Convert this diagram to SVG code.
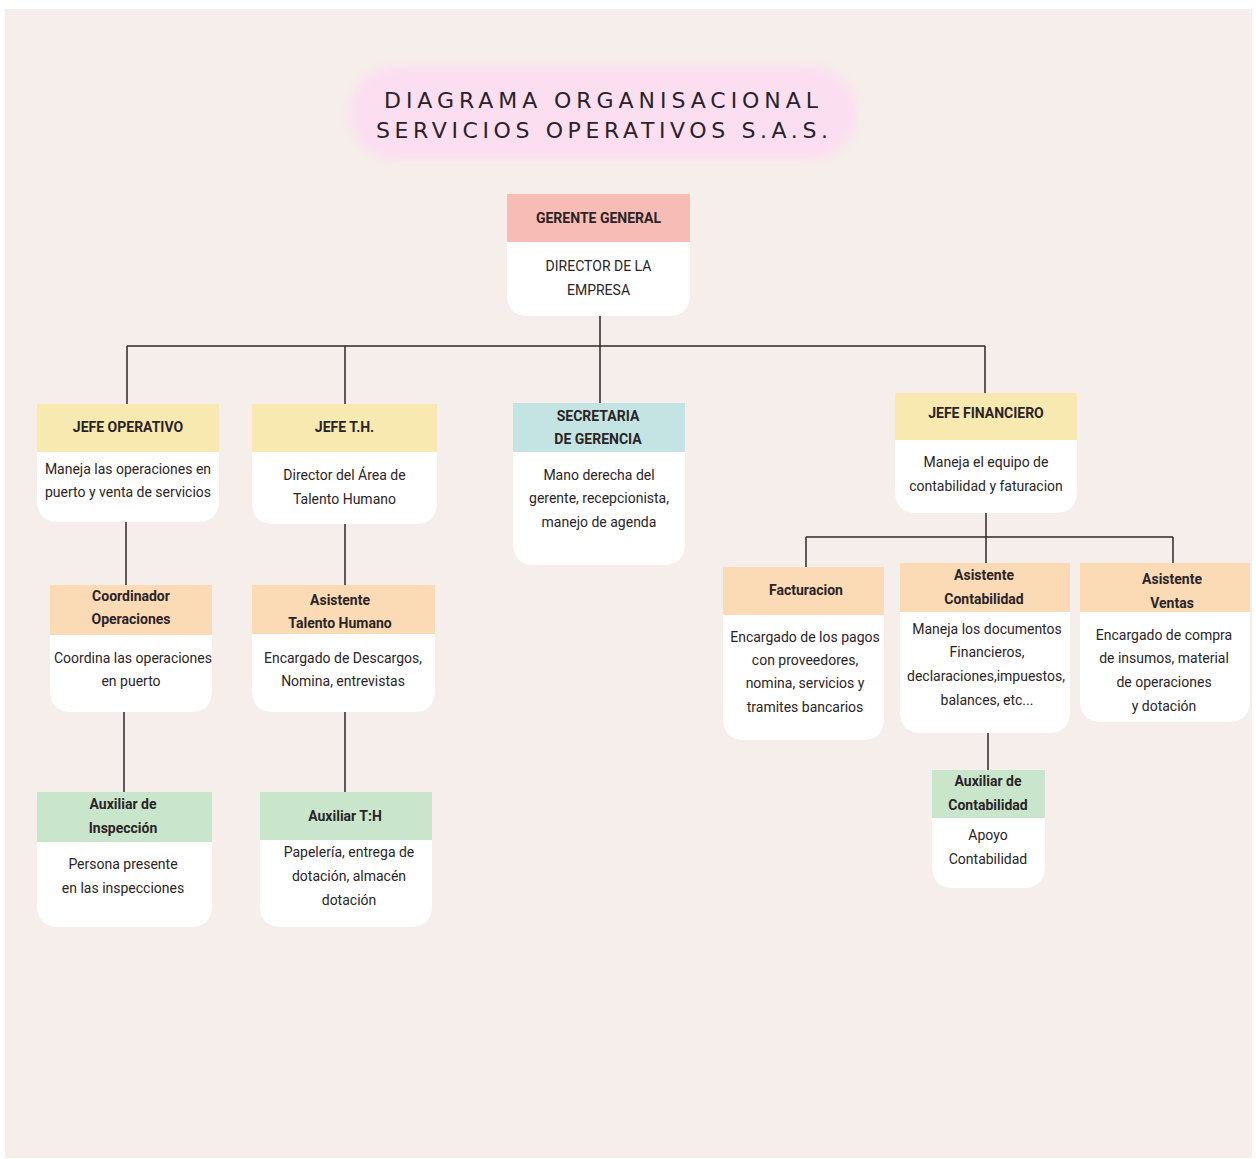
<svg xmlns="http://www.w3.org/2000/svg" width="1256" height="1159" viewBox="0 0 1256 1159">
<defs>
<filter id="soft" x="-10%" y="-20%" width="120%" height="140%"><feGaussianBlur stdDeviation="4"/></filter>
<style>
.t{font-family:Roboto,"Liberation Sans",sans-serif;font-size:14px;fill:#2b2427;text-anchor:middle}
.h{font-weight:700}
.title{font-family:"DejaVu Sans",sans-serif;font-size:22px;fill:#2a2228;text-anchor:middle}
.body{fill:#ffffff}
.pink{fill:#f7bcb5}
.yel{fill:#f8e9b0}
.teal{fill:#c4e4e3}
.peach{fill:#fbdab6}
.green{fill:#c9e6cd}
.c{stroke:#2e2a2a;stroke-width:1.5;fill:none}
</style>
</defs>
<rect width="1256" height="1159" fill="#ffffff"/>
<rect x="5" y="9" width="1247" height="1149" fill="#f6eeeb"/>

<g id="title">
<rect x="349" y="66" width="508" height="94" rx="47" fill="#fbdff0" filter="url(#soft)"/>
<text class="title" x="601" y="108" textLength="434" lengthAdjust="spacing">DIAGRAMA ORGANISACIONAL</text>
<text class="title" x="602" y="138" textLength="452" lengthAdjust="spacing">SERVICIOS OPERATIVOS S.A.S.</text>
</g>

<g id="connectors">
<path class="c" d="M600 316 V346 M127 346 H985 M127 346 V404 M345 346 V404 M600 346 V403 M985 346 V393"/>
<path class="c" d="M126 522 V585 M124 712 V792 M345 524 V585 M345 712 V792"/>
<path class="c" d="M986 513 V537 M806 537 H1173 M806 537 V567 M986 537 V563 M1173 537 V563 M988 733 V770"/>
</g>

<g id="gerente">
<path class="body" d="M507 194 H690 V294 Q690 316 668 316 H529 Q507 316 507 294 Z"/>
<rect class="pink" x="507" y="194" width="183" height="48"/>
<text class="t h" x="598.5" y="223">GERENTE GENERAL</text>
<text class="t" x="598.5" y="271">DIRECTOR DE LA</text>
<text class="t" x="598.5" y="295">EMPRESA</text>
</g>

<g id="jefe-operativo">
<path class="body" d="M37 404 H219 V500 Q219 522 197 522 H59 Q37 522 37 500 Z"/>
<rect class="yel" x="37" y="404" width="182" height="48"/>
<text class="t h" x="128" y="432">JEFE OPERATIVO</text>
<text class="t" x="128" y="474">Maneja las operaciones en</text>
<text class="t" x="128" y="497">puerto y venta de servicios</text>
</g>

<g id="jefe-th">
<path class="body" d="M252 404 H437 V502 Q437 524 415 524 H274 Q252 524 252 502 Z"/>
<rect class="yel" x="252" y="404" width="185" height="48"/>
<text class="t h" x="344.5" y="432">JEFE T.H.</text>
<text class="t" x="344.5" y="480">Director del Área de</text>
<text class="t" x="344.5" y="504">Talento Humano</text>
</g>

<g id="secretaria">
<path class="body" d="M513 403 H685 V543 Q685 565 663 565 H535 Q513 565 513 543 Z"/>
<rect class="teal" x="513" y="403" width="172" height="49"/>
<text class="t h" x="598" y="421">SECRETARIA</text>
<text class="t h" x="598" y="444">DE GERENCIA</text>
<text class="t" x="599" y="480">Mano derecha del</text>
<text class="t" x="599" y="503">gerente, recepcionista,</text>
<text class="t" x="599" y="527">manejo de agenda</text>
</g>

<g id="jefe-financiero">
<path class="body" d="M895 393 H1077 V491 Q1077 513 1055 513 H917 Q895 513 895 491 Z"/>
<rect class="yel" x="895" y="393" width="182" height="47"/>
<text class="t h" x="986" y="418">JEFE FINANCIERO</text>
<text class="t" x="986" y="467">Maneja el equipo de</text>
<text class="t" x="986" y="491">contabilidad y faturacion</text>
</g>

<g id="coordinador">
<path class="body" d="M50 585 H212 V690 Q212 712 190 712 H72 Q50 712 50 690 Z"/>
<rect class="peach" x="50" y="585" width="162" height="50"/>
<text class="t h" x="131" y="601">Coordinador</text>
<text class="t h" x="131" y="624">Operaciones</text>
<text class="t" x="133" y="663">Coordina las operaciones</text>
<text class="t" x="131" y="686">en puerto</text>
</g>

<g id="asistente-th">
<path class="body" d="M252 585 H435 V690 Q435 712 413 712 H274 Q252 712 252 690 Z"/>
<rect class="peach" x="252" y="585" width="183" height="49"/>
<text class="t h" x="340" y="605">Asistente</text>
<text class="t h" x="340" y="628">Talento Humano</text>
<text class="t" x="343" y="663">Encargado de Descargos,</text>
<text class="t" x="343" y="686">Nomina, entrevistas</text>
</g>

<g id="auxiliar-inspeccion">
<path class="body" d="M37 792 H212 V905 Q212 927 190 927 H59 Q37 927 37 905 Z"/>
<rect class="green" x="37" y="792" width="175" height="50"/>
<text class="t h" x="123" y="809">Auxiliar de</text>
<text class="t h" x="123" y="833">Inspección</text>
<text class="t" x="123" y="869">Persona presente</text>
<text class="t" x="123" y="893">en las inspecciones</text>
</g>

<g id="auxiliar-th">
<path class="body" d="M260 792 H432 V905 Q432 927 410 927 H282 Q260 927 260 905 Z"/>
<rect class="green" x="260" y="792" width="172" height="48"/>
<text class="t h" x="345" y="821">Auxiliar T:H</text>
<text class="t" x="349" y="857">Papelería, entrega de</text>
<text class="t" x="349" y="881">dotación, almacén</text>
<text class="t" x="349" y="905">dotación</text>
</g>

<g id="facturacion">
<path class="body" d="M723 567 H884 V718 Q884 740 862 740 H745 Q723 740 723 718 Z"/>
<rect class="peach" x="723" y="567" width="161" height="48"/>
<text class="t h" x="806" y="595">Facturacion</text>
<text class="t" x="805" y="642">Encargado de los pagos</text>
<text class="t" x="805" y="665">con proveedores,</text>
<text class="t" x="805" y="688">nomina, servicios y</text>
<text class="t" x="805" y="712">tramites bancarios</text>
</g>

<g id="asistente-contabilidad">
<path class="body" d="M900 563 H1070 V711 Q1070 733 1048 733 H922 Q900 733 900 711 Z"/>
<rect class="peach" x="900" y="563" width="170" height="49"/>
<text class="t h" x="984" y="580">Asistente</text>
<text class="t h" x="984" y="604">Contabilidad</text>
<text class="t" x="987" y="634">Maneja los documentos</text>
<text class="t" x="987" y="657">Financieros,</text>
<text class="t" x="986" y="681">declaraciones,impuestos,</text>
<text class="t" x="987" y="705">balances, etc...</text>
</g>

<g id="asistente-ventas">
<path class="body" d="M1080 563 H1250 V700 Q1250 722 1228 722 H1102 Q1080 722 1080 700 Z"/>
<rect class="peach" x="1080" y="563" width="170" height="49"/>
<text class="t h" x="1172" y="584">Asistente</text>
<text class="t h" x="1172" y="608">Ventas</text>
<text class="t" x="1164" y="640">Encargado de compra</text>
<text class="t" x="1164" y="663">de insumos, material</text>
<text class="t" x="1164" y="687">de operaciones</text>
<text class="t" x="1164" y="711">y dotación</text>
</g>

<g id="auxiliar-contabilidad">
<path class="body" d="M932 770 H1045 V866 Q1045 888 1023 888 H954 Q932 888 932 866 Z"/>
<rect class="green" x="932" y="770" width="113" height="48"/>
<text class="t h" x="988" y="786">Auxiliar de</text>
<text class="t h" x="988" y="810">Contabilidad</text>
<text class="t" x="988" y="840">Apoyo</text>
<text class="t" x="988" y="864">Contabilidad</text>
</g>
</svg>
